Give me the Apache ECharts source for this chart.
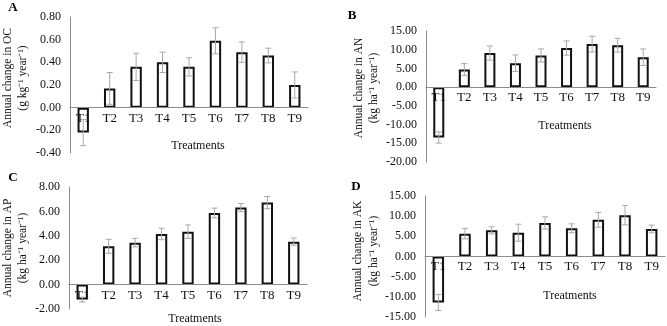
<!DOCTYPE html>
<html>
<head>
<meta charset="utf-8">
<script src="https://cdn.jsdelivr.net/npm/echarts@6/dist/echarts.min.js"></script>
<style>
  html, body { margin: 0; padding: 0; background: #fff; }
  #chart { width: 667px; height: 326px; }
</style>
</head>
<body>
<div id="chart"></div>
<script>
var treatments = ['T1', 'T2', 'T3', 'T4', 'T5', 'T6', 'T7', 'T8', 'T9'];

// A - organic carbon
var ocMean = [-0.22, 0.17, 0.36, 0.40, 0.36, 0.59, 0.49, 0.46, 0.20];
var ocErr  = [0.115, 0.14, 0.12, 0.09, 0.08, 0.115, 0.09, 0.065, 0.115];
var ocAxis = [-0.4, 0.8, 0.2]; // min, max, step

// B - available N
var anMean = [-13.45, 4.7, 9.1, 6.4, 8.45, 10.45, 11.5, 11.2, 8.0];
var anErr  = [1.5, 1.6, 1.9, 2.2, 1.75, 1.9, 2.1, 1.85, 2.2];
var anAxis = [-20, 15, 5];

// C - available P
var apMean = [-1.23, 3.14, 3.44, 4.15, 4.34, 5.87, 6.31, 6.72, 3.52];
var apErr  = [0.2, 0.57, 0.35, 0.47, 0.55, 0.4, 0.33, 0.5, 0.3];
var apAxis = [-2, 8, 2];

// D - available K
var akMean = [-11.4, 5.67, 6.5, 5.9, 8.33, 7.0, 9.1, 10.25, 6.83];
var akErr  = [2.0, 1.3, 0.9, 2.1, 1.5, 1.1, 1.85, 2.4, 0.95];
var akAxis = [-15, 15, 5];

var FONT = "'Liberation Serif', 'Times New Roman', serif";

var chart = echarts.init(document.getElementById('chart'));

// grid boxes for the four panels
var grids = [
  { left: 70,  top: 17,  width: 238, height: 136 },
  { left: 426, top: 31,  width: 230, height: 131 },
  { left: 69,  top: 187, width: 238, height: 122 },
  { left: 425, top: 196, width: 240, height: 121 }
];

function errData(mean, err) {
  return mean.map(function (m, i) { return [i, m - err[i], m + err[i]]; });
}

// error bar with small caps
function errorItem(params, api) {
  var x = api.value(0);
  var lo = api.coord([x, api.value(1)]);
  var hi = api.coord([x, api.value(2)]);
  var w = 3;
  var st = { stroke: '#a8a8a8', lineWidth: 1 };
  return {
    type: 'group',
    children: [
      { type: 'line', shape: { x1: lo[0], y1: lo[1], x2: hi[0], y2: hi[1] }, style: st },
      { type: 'line', shape: { x1: lo[0] - w, y1: lo[1], x2: lo[0] + w, y2: lo[1] }, style: st },
      { type: 'line', shape: { x1: hi[0] - w, y1: hi[1], x2: hi[0] + w, y2: hi[1] }, style: st }
    ]
  };
}

var panels = [
  { mean: ocMean, err: ocErr, ax: ocAxis },
  { mean: anMean, err: anErr, ax: anAxis },
  { mean: apMean, err: apErr, ax: apAxis },
  { mean: akMean, err: akErr, ax: akAxis }
];

var xAxes = [], yAxes = [], series = [];
panels.forEach(function (p, i) {
  // lift the category axis (line + labels) up to the zero level
  var zeroLift = grids[i].height * (0 - p.ax[0]) / (p.ax[1] - p.ax[0]);
  xAxes.push({
    type: 'category',
    gridIndex: i,
    data: treatments,
    position: 'bottom',
    offset: -zeroLift,
    z: 10,
    axisLine: { onZero: false, lineStyle: { color: '#8c8c8c', width: 1 } },
    axisTick: { show: false },
    axisLabel: { color: '#111', fontFamily: FONT, fontSize: 13, margin: 4, interval: 0 }
  });
  yAxes.push({
    type: 'value',
    gridIndex: i,
    min: p.ax[0],
    max: p.ax[1],
    interval: p.ax[2],
    splitLine: { show: false },
    axisLine: { show: true, lineStyle: { color: '#8c8c8c', width: 1 } },
    axisTick: { show: false },
    axisLabel: {
      color: '#111', fontFamily: FONT, fontSize: 12, margin: 9,
      formatter: function (v) { return v.toFixed(2); }
    }
  });
  series.push({
    type: 'bar',
    xAxisIndex: i,
    yAxisIndex: i,
    data: p.mean,
    barWidth: '43%',
    itemStyle: { color: '#fff', borderColor: '#111', borderWidth: 2 },
    animation: false
  });
  series.push({
    type: 'custom',
    xAxisIndex: i,
    yAxisIndex: i,
    renderItem: errorItem,
    data: errData(p.mean, p.err),
    z: 3,
    animation: false
  });
});

function label(x, y, text) {
  return {
    type: 'text', x: x, y: y,
    style: { text: text, fill: '#111', font: '12px ' + FONT, textAlign: 'center', textVerticalAlign: 'middle' }
  };
}
function ytitle(x, y, text) {
  return {
    type: 'text', x: x, y: y, rotation: Math.PI / 2,
    style: { text: text, fill: '#111', font: '11.5px ' + FONT, textAlign: 'center', textVerticalAlign: 'middle' }
  };
}
function tag(x, y, text) {
  return {
    type: 'text', x: x, y: y,
    style: { text: text, fill: '#000', font: 'bold 13px ' + FONT, textAlign: 'center', textVerticalAlign: 'middle' }
  };
}

var graphics = [
  tag(13, 8, 'A'), tag(352, 16, 'B'), tag(13, 178, 'C'), tag(356, 187, 'D'),
  label(198, 146, 'Treatments'), label(565, 126, 'Treatments'),
  label(195, 319, 'Treatments'), label(570, 296, 'Treatments'),
  ytitle(8, 78, 'Annual change in OC'), ytitle(23, 78, '(g kg\u207B\u00B9 year\u207B\u00B9)'),
  ytitle(359, 88, 'Annual change in AN'), ytitle(374, 88, '(kg ha\u207B\u00B9 year\u207B\u00B9)'),
  ytitle(8, 248, 'Annual change in AP'), ytitle(23, 248, '(kg ha\u207B\u00B9 year\u207B\u00B9)'),
  ytitle(358, 251, 'Annual change in AK'), ytitle(374, 251, '(kg ha\u207B\u00B9 year\u207B\u00B9)')
];

chart.setOption({
  backgroundColor: '#fff',
  animation: false,
  grid: grids,
  xAxis: xAxes,
  yAxis: yAxes,
  series: series,
  graphic: graphics
});
</script>
</body>
</html>
